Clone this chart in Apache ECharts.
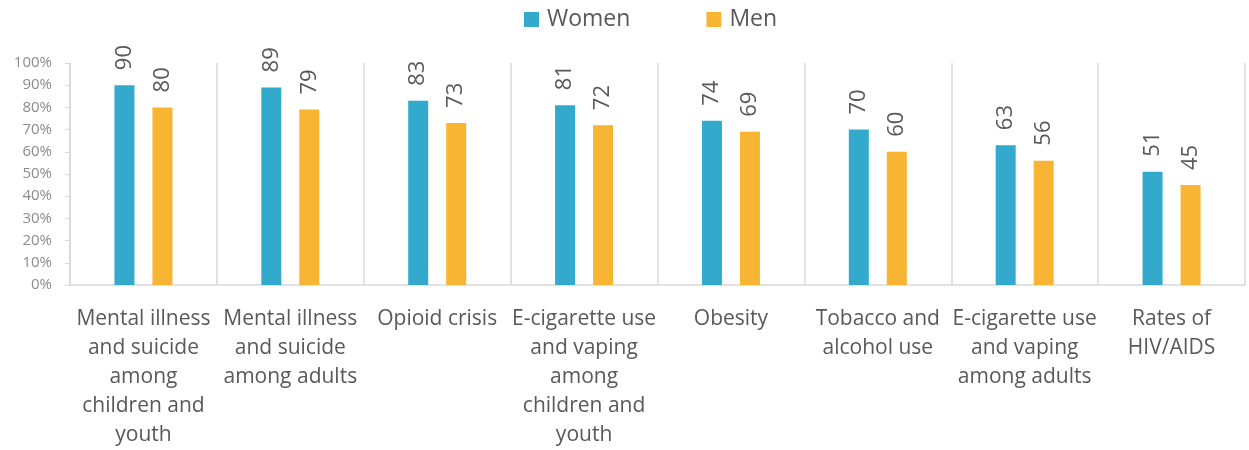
<!DOCTYPE html>
<html>
<head>
<meta charset="utf-8">
<script src="https://cdn.jsdelivr.net/npm/echarts@6/dist/echarts.min.js"></script>
<style>html,body{margin:0;padding:0;background:#fff;}#c{width:1249px;height:450px;}</style>
</head>
<body>
<div id="c"></div>
<script>
const categories = [
  "Mental illness\nand suicide\namong\nchildren and\nyouth",
  "Mental illness\nand suicide\namong adults",
  "Opioid crisis",
  "E-cigarette use\nand vaping\namong\nchildren and\nyouth",
  "Obesity",
  "Tobacco and\nalcohol use",
  "E-cigarette use\nand vaping\namong adults",
  "Rates of\nHIV/AIDS"
];
const women = [90, 89, 83, 81, 74, 70, 63, 51];
const men = [80, 79, 73, 72, 69, 60, 56, 45];
const seriesNames = ["Women", "Men"];

const font = "'Open Sans', 'Noto Sans', sans-serif";
const chart = echarts.init(document.getElementById('c'), null, {renderer: 'canvas'});
const labelCfg = {
  show: true, position: 'top', rotate: 90, align: 'left', verticalAlign: 'middle',
  distance: 15, fontSize: 22, color: '#595959', fontFamily: font
};
chart.setOption({
  animation: false,
  backgroundColor: '#ffffff',
  legend: {
    top: 3, left: 519, itemWidth: 15, itemHeight: 15, itemGap: 76, icon: 'rect',
    textStyle: {fontSize: 23, color: '#595959', fontFamily: font, padding: [0,0,0,3]},
    data: seriesNames
  },
  grid: {left: 70, right: 4, top: 63, bottom: 162},
  xAxis: {
    type: 'category', data: categories,
    axisLine: {lineStyle: {color: '#d9d9d9', width: 1.5}},
    axisTick: {show: false},
    splitLine: {show: true, lineStyle: {color: '#d9d9d9', width: 1.5}},
    axisLabel: {interval: 0, fontSize: 21, lineHeight: 29, color: '#595959', fontFamily: font, margin: 20}
  },
  yAxis: {
    type: 'value', min: 0, max: 100, interval: 10,
    axisLine: {show: true, lineStyle: {color: '#d9d9d9', width: 1.5}},
    axisTick: {show: true, length: 5, lineStyle: {color: '#d9d9d9'}},
    splitLine: {show: false},
    axisLabel: {formatter: '{value}%', fontSize: 15, color: '#8c8c8c', fontFamily: font, margin: 18}
  },
  series: [
    {name: seriesNames[0], type: 'bar', data: women, barWidth: 20, barGap: '90%',
     itemStyle: {color: '#33aacc'}, label: labelCfg},
    {name: seriesNames[1], type: 'bar', data: men, barWidth: 20, barGap: '90%',
     itemStyle: {color: '#f8b534'}, label: labelCfg}
  ]
});
</script>
</body>
</html>
